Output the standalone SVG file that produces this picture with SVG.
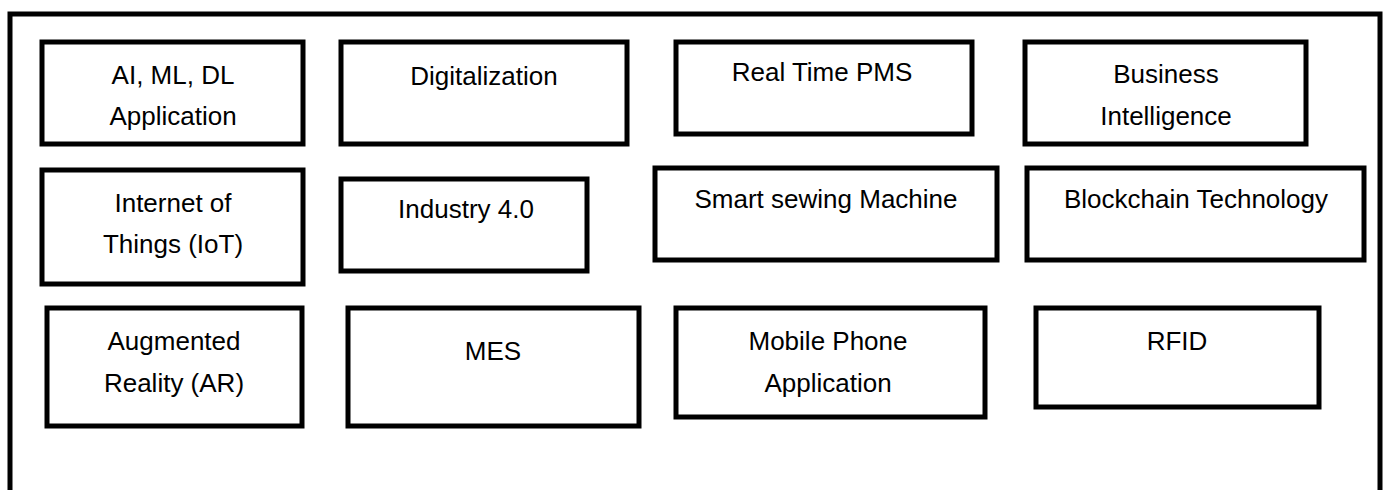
<svg xmlns="http://www.w3.org/2000/svg" width="1390" height="490" viewBox="0 0 1390 490">
<style>
.box{fill:#fff;stroke:#000;stroke-width:5}
.frame{fill:#fff;stroke:#000;stroke-width:5}
text{font-family:"Liberation Sans",Arial,sans-serif;font-size:26px;fill:#000;text-anchor:middle}
</style>
<rect width="1390" height="490" fill="#fff"/>
<rect class="frame" x="10" y="14" width="1370" height="500"/>
<g id="connectors"></g>
<g id="n-ai"><rect class="box" x="42" y="42" width="261" height="102"/><text x="173" y="84">AI, ML, DL</text><text x="173" y="125">Application</text></g>
<g id="n-digital"><rect class="box" x="341" y="42" width="286" height="102"/><text x="484" y="85">Digitalization</text></g>
<g id="n-pms"><rect class="box" x="676" y="42" width="296" height="92"/><text x="822" y="81">Real Time PMS</text></g>
<g id="n-bi"><rect class="box" x="1025" y="42" width="281" height="102"/><text x="1166" y="83">Business</text><text x="1166" y="125">Intelligence</text></g>
<g id="n-iot"><rect class="box" x="42" y="170" width="261" height="114"/><text x="173" y="212">Internet of</text><text x="173" y="253">Things (IoT)</text></g>
<g id="n-i40"><rect class="box" x="341" y="179" width="246" height="92"/><text x="466" y="218">Industry 4.0</text></g>
<g id="n-sewing"><rect class="box" x="655" y="168" width="342" height="92"/><text x="826" y="208">Smart sewing Machine</text></g>
<g id="n-block"><rect class="box" x="1027" y="168" width="337" height="92"/><text x="1196" y="208">Blockchain Technology</text></g>
<g id="n-ar"><rect class="box" x="47" y="308" width="255" height="118"/><text x="174" y="350">Augmented</text><text x="174" y="392">Reality (AR)</text></g>
<g id="n-mes"><rect class="box" x="348" y="308" width="291" height="118"/><text x="493" y="360">MES</text></g>
<g id="n-mobile"><rect class="box" x="676" y="308" width="309" height="109"/><text x="828" y="350">Mobile Phone</text><text x="828" y="392">Application</text></g>
<g id="n-rfid"><rect class="box" x="1036" y="308" width="283" height="99"/><text x="1177" y="350">RFID</text></g>
</svg>
